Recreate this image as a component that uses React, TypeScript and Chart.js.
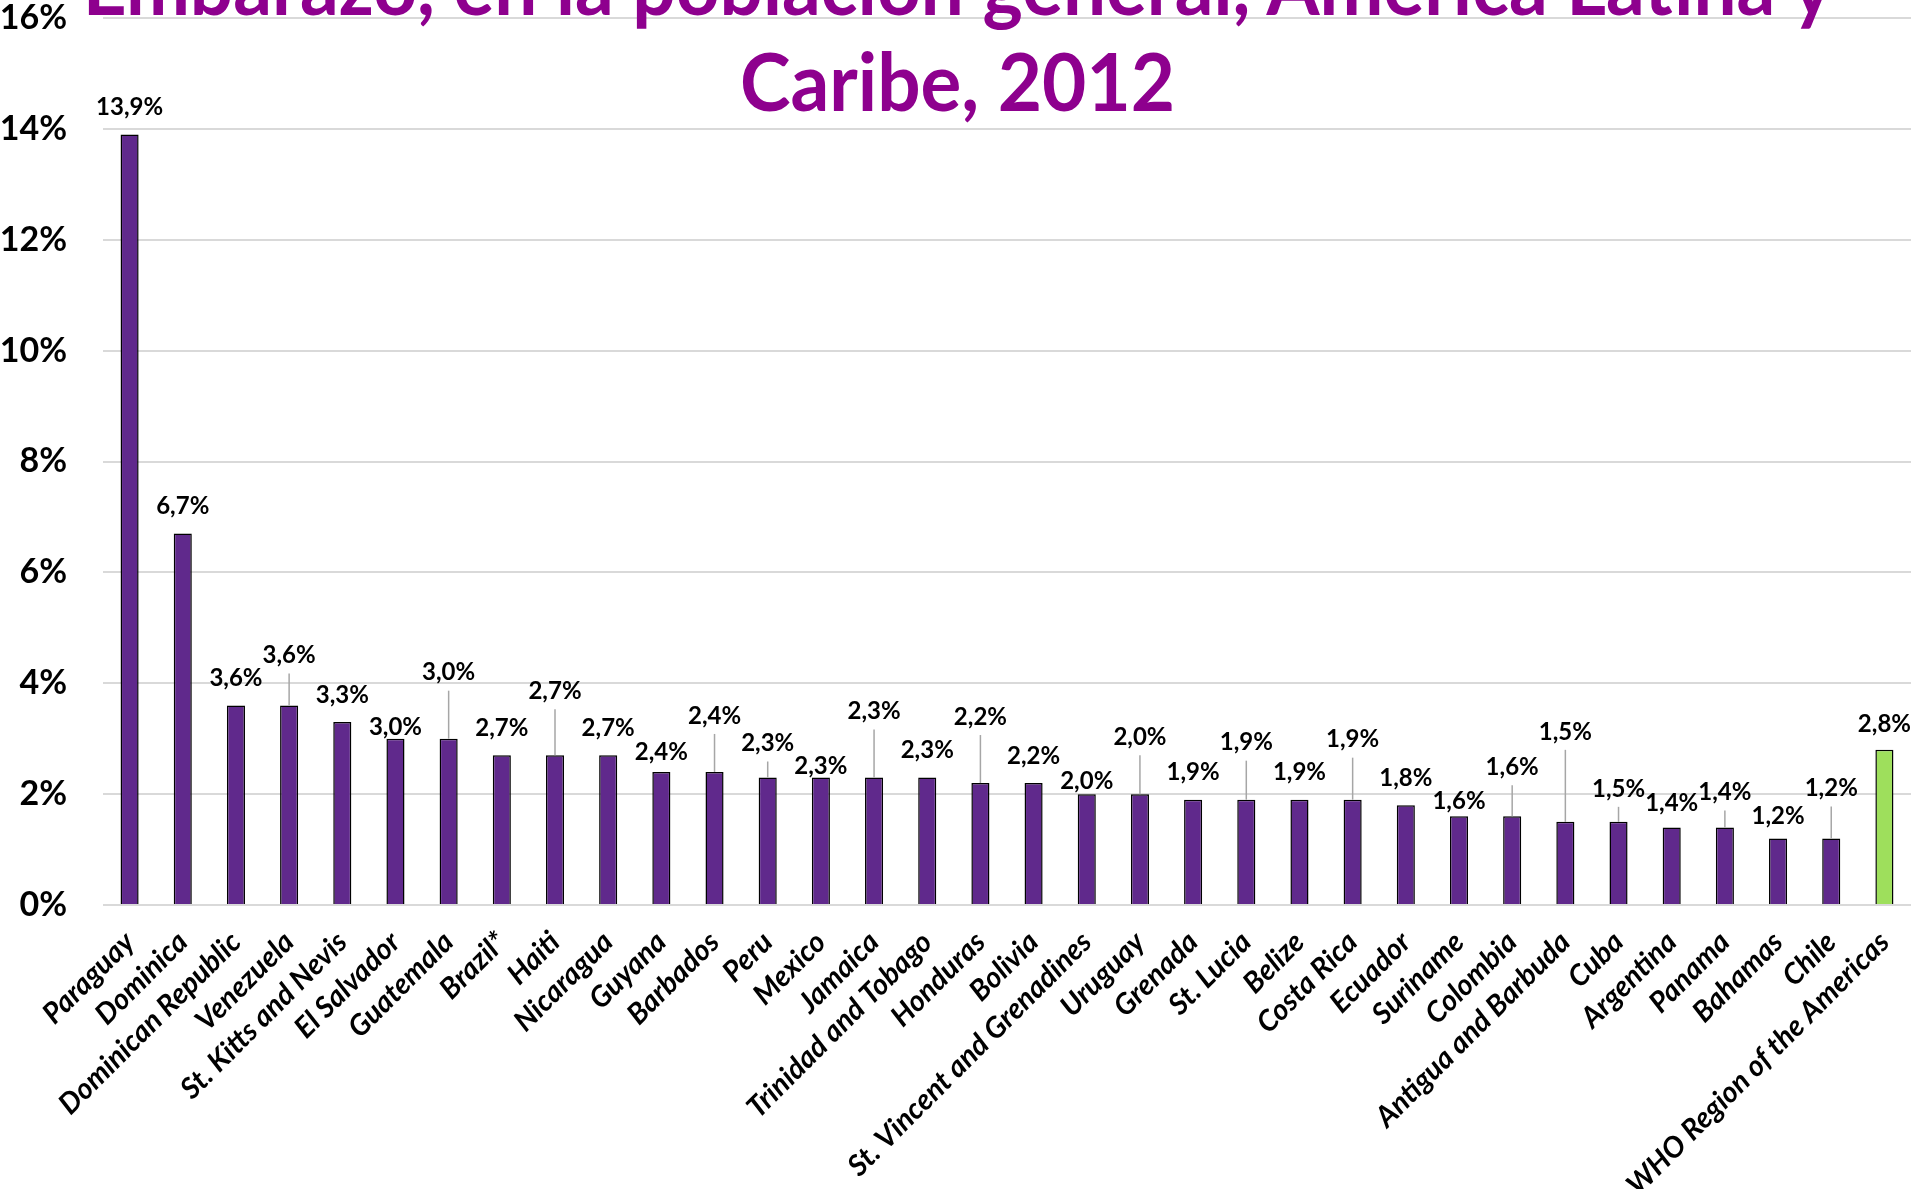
import React, { useEffect, useRef } from "react";
import { Chart, registerables } from "chart.js";

Chart.register(...registerables);

const categories: string[] = [
  "Paraguay", "Dominica", "Dominican Republic", "Venezuela", "St. Kitts and Nevis",
  "El Salvador", "Guatemala", "Brazil*", "Haiti", "Nicaragua", "Guyana", "Barbados",
  "Peru", "Mexico", "Jamaica", "Trinidad and Tobago", "Honduras", "Bolivia",
  "St. Vincent and Grenadines", "Uruguay", "Grenada", "St. Lucia", "Belize",
  "Costa Rica", "Ecuador", "Suriname", "Colombia", "Antigua and Barbuda", "Cuba",
  "Argentina", "Panama", "Bahamas", "Chile", "WHO Region of the Americas",
];

const values: number[] = [
  13.9, 6.7, 3.6, 3.6, 3.3, 3.0, 3.0, 2.7, 2.7, 2.7, 2.4, 2.4, 2.3, 2.3, 2.3, 2.3,
  2.2, 2.2, 2.0, 2.0, 1.9, 1.9, 1.9, 1.9, 1.8, 1.6, 1.6, 1.5, 1.5, 1.4, 1.4, 1.2,
  1.2, 2.8,
];

// label lift above bar top (px), mimicking manually moved Excel data labels
const labelLift: number[] = [
  27, 27, 27, 50, 27, 11, 66, 27, 64, 27, 20, 56, 34, 11, 66, 27,
  66, 27, 13, 57, 27, 57, 27, 60, 27, 15, 49, 90, 33, 24, 35, 22,
  50, 26,
];

const yTicks: number[] = [0, 2, 4, 6, 8, 10, 12, 14, 16];

const titleLines: string[] = [
  "Embarazo, en la población general, América Latina y",
  "Caribe, 2012",
];

const PURPLE = "#60298C";
const GREEN = "#9EDF5C";
const TITLE_COLOR = "#8E008E";

const fmt = (v: number) => v.toFixed(1).replace(".", ",") + "%";

const labelPlugin = {
  id: "valueLabels",
  afterDatasetsDraw(chart: any) {
    const ctx = chart.ctx;
    const meta = chart.getDatasetMeta(0);
    ctx.save();
    ctx.font = "bold 24px Lato";
    ctx.textAlign = "center";
    ctx.textBaseline = "middle";
    meta.data.forEach((bar: any, i: number) => {
      const lift = labelLift[i];
      const cy = bar.y - lift;
      if (lift > 30) {
        ctx.strokeStyle = "#A6A6A6";
        ctx.lineWidth = 1.5;
        ctx.beginPath();
        ctx.moveTo(bar.x, bar.y);
        ctx.lineTo(bar.x, cy + 18);
        ctx.stroke();
      }
      ctx.fillStyle = "#000";
      ctx.fillText(fmt(values[i]), bar.x, cy);
    });
    ctx.restore();
  },
};

export default function App() {
  const ref = useRef<HTMLCanvasElement | null>(null);

  useEffect(() => {
    if (!ref.current) return;
    const colors = categories.map((_, i) => (i === categories.length - 1 ? GREEN : PURPLE));
    const chart = new Chart(ref.current, {
      type: "bar",
      data: {
        labels: categories,
        datasets: [
          {
            data: values,
            backgroundColor: colors,
            borderColor: "#000",
            borderWidth: 1.5,
            barPercentage: 0.68,
            categoryPercentage: 0.5,
          },
        ],
      },
      options: {
        responsive: false,
        animation: false,
        layout: { padding: { top: 18, right: 4, left: 0, bottom: 0 } },
        plugins: { legend: { display: false }, tooltip: { enabled: false } },
        scales: {
          x: {
            grid: { display: false, drawTicks: false },
            border: { display: false },
            ticks: {
              autoSkip: false,
              maxRotation: 45,
              minRotation: 45,
              padding: 20,
              color: "#000",
              font: { family: "Lato", size: 29, weight: "bold", style: "italic" },
            },
            afterFit: (scale: any) => {
              scale.height = 284;
              scale.paddingLeft = 0;
              scale.paddingRight = 0;
            },
          },
          y: {
            min: 0,
            max: 16,
            afterBuildTicks: (scale: any) => {
              scale.ticks = yTicks.map((v) => ({ value: v }));
            },
            grid: { color: "#D9D9D9", lineWidth: 2, drawTicks: false },
            border: { display: false },
            ticks: {
              padding: 36,
              color: "#000",
              font: { family: "Lato", size: 34, weight: "bold" },
              callback: (v: any) => v + "%",
            },
            afterFit: (scale: any) => {
              scale.width = 103;
              scale.paddingTop = 0;
              scale.paddingBottom = 0;
            },
          },
        },
      },
      plugins: [labelPlugin],
    });
    return () => chart.destroy();
  }, []);

  return (
    <div
      style={{
        position: "fixed",
        left: 0,
        top: 0,
        width: 1915,
        height: 1189,
        overflow: "hidden",
        background: "#fff",
      }}
    >
      <canvas ref={ref} width={1915} height={1189} style={{ display: "block" }} />
      <div
        style={{
          position: "absolute",
          left: 0,
          top: -64,
          width: 1915,
          textAlign: "center",
          fontFamily: "Lato",
          fontWeight: 700,
          fontSize: 80,
          lineHeight: "96px",
          color: TITLE_COLOR,
          whiteSpace: "nowrap",
          pointerEvents: "none",
          transform: "scaleX(0.955)",
          transformOrigin: "50% 0",
        }}
      >
        {titleLines.map((l, i) => (
          <div key={i}>{l}</div>
        ))}
      </div>
    </div>
  );
}
